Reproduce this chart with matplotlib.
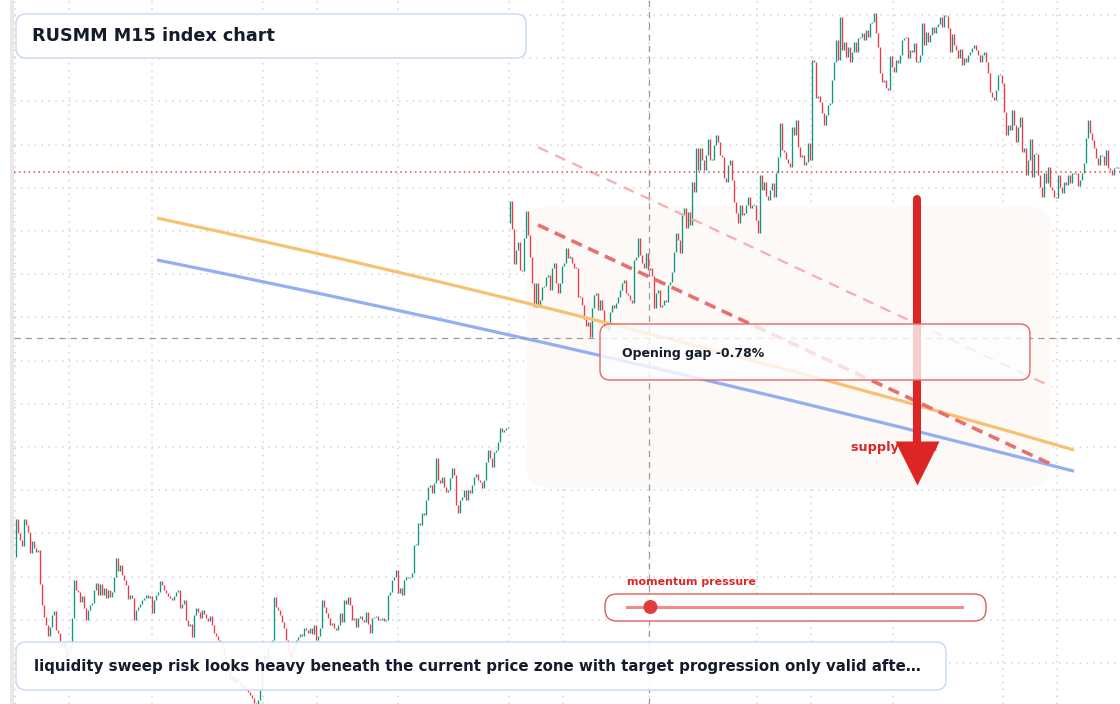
import matplotlib
matplotlib.use("Agg")
import matplotlib.pyplot as plt
import numpy as np
from matplotlib.patches import FancyBboxPatch, Circle, PathPatch, Rectangle
from matplotlib.path import Path
from matplotlib.transforms import Affine2D
from matplotlib.lines import Line2D

plt.rcParams['font.family'] = ['DejaVu Sans']

# ---------------- data ----------------
title = "RUSMM M15 index chart"
note = ("liquidity sweep risk looks heavy beneath the current price zone with "
        "target progression only valid afte\u2026")
gap_label = "Opening gap -0.78%"
zone_label = "supply zone"
slider_label = "momentum pressure"

first_open = 124.5
session1_close = [
    133.3, 130.1, 128.5, 127.1, 133.3, 131.9, 130.3, 125.5, 128.2, 126.6,
    125.7, 126.2, 118.3, 113.4, 110.6, 108.8, 106.3, 108.3, 111.1, 112.0,
    107.6, 106.9, 104.9, 103.5, 104.9, 101.4, 103.0, 104.2, 110.4, 119.2,
    116.9, 116.4, 114.1, 115.5, 112.7, 110.0, 112.3, 113.4, 113.9, 116.9,
    118.5, 115.7, 118.3, 115.7, 117.4, 115.0, 116.9, 115.3, 116.4, 119.9,
    124.3, 121.3, 122.7, 120.4, 119.2, 118.1, 114.8, 115.7, 115.0, 110.0,
    112.3, 113.0, 113.7, 114.6, 115.0, 115.7, 115.0, 115.5, 111.6, 114.6,
    115.7, 116.4, 119.0, 118.1, 116.9, 116.2, 115.5, 115.0, 114.6, 115.5,
    116.4, 116.9, 112.7, 113.7, 114.6, 110.0, 108.6, 109.0, 106.0, 111.1,
    112.7, 111.8, 110.4, 112.3, 111.3, 110.4, 109.7, 110.9, 108.8, 106.9,
    106.3, 105.3, 104.9, 103.5, 101.9, 99.5, 97.9, 96.1, 97.0, 95.4,
    96.5, 95.6, 94.9, 94.2, 94.7, 93.8, 93.3, 92.6, 91.9, 90.7,
    89.6, 91.4, 93.8, 98.8, 101.9, 100.7, 103.5, 104.4, 105.3, 115.3,
    113.0, 112.3, 111.1, 109.5, 108.1, 105.3, 103.0, 101.2, 102.5, 104.2,
    105.3, 106.0, 106.7, 106.3, 108.1, 107.6, 106.9, 108.1, 106.7, 108.8,
    105.3, 106.3, 108.1, 114.6, 113.0, 111.6, 110.4, 108.8, 109.3, 108.1,
    107.6, 108.8, 111.6, 109.5, 114.6, 113.7, 115.3, 113.4, 110.0, 110.4,
    108.3, 110.4, 110.9, 110.0, 109.5, 111.8, 109.0, 106.9, 110.4, 110.6,
    110.9, 110.0, 110.0, 110.4, 109.7, 110.0, 115.7, 116.4, 119.2, 119.9,
    121.5, 116.2, 117.4, 115.7, 119.2, 119.9, 119.7, 119.9, 120.8, 127.3,
    127.3, 132.4, 131.9, 134.7, 134.3, 137.7, 140.7, 141.2, 139.4, 141.7,
    147.5, 142.4, 141.7, 143.1, 140.7, 139.6, 140.0, 142.8, 145.1, 143.5,
    136.6, 134.7, 137.7, 138.4, 140.0, 137.7, 140.0, 139.4, 141.2, 143.1,
    143.8, 142.4, 141.9, 140.5, 142.4, 146.5, 149.3, 147.5, 145.4, 148.8,
    149.3, 151.2, 154.4, 153.5, 153.9, 154.4, 154.4,
]
session2_open = 201.9
session2_close = [
    206.9, 200.5, 192.4, 195.6, 197.5, 191.0, 190.7, 198.4, 204.6, 199.1,
    194.0, 188.0, 182.4, 188.0, 182.4, 184.0, 187.0, 187.3, 189.4, 189.8,
    186.3, 191.4, 192.6, 188.0, 185.6, 188.0, 191.9, 192.6, 196.1, 193.8,
    194.0, 192.6, 191.4, 191.4, 184.7, 184.7, 182.9, 179.6, 178.0, 178.9,
    175.5, 182.2, 185.2, 185.6, 181.7, 184.0, 181.7, 177.5, 178.2, 177.1,
    181.3, 182.9, 182.2, 183.3, 184.7, 186.3, 188.0, 188.7, 185.6, 185.2,
    184.0, 183.3, 193.3, 194.0, 198.4, 194.4, 192.6, 191.4, 194.9, 191.0,
    191.4, 189.6, 182.2, 185.6, 186.3, 182.4, 182.9, 184.0, 183.5, 187.5,
    188.2, 190.5, 195.1, 199.5, 197.9, 194.9, 203.7, 205.3, 200.7, 204.4,
    201.4, 211.4, 209.0, 219.2, 214.1, 219.2, 216.4, 214.1, 217.6, 221.3,
    216.4, 216.4, 219.9, 222.2, 220.6, 217.6, 217.1, 212.3, 211.4, 215.3,
    216.4, 211.8, 206.7, 204.2, 201.9, 206.0, 203.7, 204.2, 206.0, 207.9,
    205.3, 206.0, 206.0, 202.5, 199.5, 213.0, 209.5, 211.4, 208.1, 207.2,
    209.5, 211.1, 207.9, 213.4, 217.1, 225.0, 218.7, 218.3, 216.7, 215.7,
    214.8, 224.1, 222.2, 225.7, 219.4, 217.1, 217.6, 215.3, 216.0, 220.4,
    216.4, 239.6, 239.1, 230.8, 231.3, 229.9, 227.3, 224.5, 226.9, 229.2,
    229.6, 235.0, 239.1, 244.2, 239.6, 249.5, 241.9, 243.8, 240.3, 242.6,
    239.1, 241.4, 243.8, 241.4, 244.7, 244.9, 245.8, 244.2, 246.5, 244.9,
    248.1, 248.4, 250.5, 245.8, 242.6, 236.6, 234.5, 235.0, 233.1, 232.6,
    240.5, 237.9, 236.8, 239.6, 238.9, 240.7, 244.2, 244.7, 244.9, 240.0,
    241.9, 241.4, 243.5, 239.1, 239.1, 240.7, 248.1, 243.1, 246.1, 243.8,
    245.4, 247.2, 245.8, 247.2, 247.9, 249.5, 247.2, 250.0, 249.8, 247.0,
    241.4, 245.6, 243.1, 241.9, 240.0, 242.1, 238.4, 240.0, 239.1, 240.7,
    241.4, 242.4, 243.1, 241.9, 240.7, 239.1, 240.7, 241.4, 239.1, 236.6,
    232.2, 231.0, 230.3, 232.6, 236.1, 236.1, 234.3, 227.5, 222.2, 224.5,
    223.4, 228.0, 224.5, 220.6, 224.1, 226.4, 218.3, 219.2, 213.0, 216.4,
    221.3, 212.5, 217.8, 217.8, 213.0, 210.2, 207.9, 213.4, 211.1, 214.8,
    210.2, 209.5, 207.9, 207.6, 213.0, 210.2, 208.8, 211.4, 210.6, 213.0,
    211.1, 213.4, 213.2, 213.4, 210.4, 211.8, 213.4, 215.7, 221.5, 225.7,
    222.7, 221.1, 219.2, 216.9, 215.3, 217.6, 217.4, 215.3, 218.7, 214.6,
    214.1, 213.0, 214.6, 214.6, 214.6, 213.7,
]

time_grid = [-0.25, 26.75, 68.25, 123.75, 150.75, 191.25, 246.75, 273.75,
             316.75, 370.75, 397.75, 438.75, 493.75, 520.75]
price_grid = list(range(100, 251, 10))

crosshair_bar = 316.75
crosshair_price = 175.2

# overlay drawings: (bar index, price)
orange_curve = [(70.75, 203.0), (300.0, 180.3), (529.25, 149.3)]
blue_curve = [(70.75, 193.3), (300.0, 171.9), (529.25, 144.4)]
red_trend = [(261.25, 201.4), (519.75, 145.6)]
pink_trend = [(261.25, 219.4), (518.25, 163.9)]
zone_bars = (255.75, 517.25)
zone_prices = (140.7, 205.6)
arrow_bar = 450.75
arrow_from, arrow_to = 207.4, 150.5
arrow_head = 146.4
zone_text_pos = (417.75, 149.8)
momentum_value = 0.07  # knob position along slider (0..1)

# ---------------- figure ----------------
W, H = 1120, 704
fig = plt.figure(figsize=(W / 100, H / 100), dpi=100)
fig.patch.set_facecolor('white')
ax = fig.add_axes([14 / W, 0, (W - 14) / W, 1])
ax.set_facecolor('white')
px = Affine2D().scale(1, -1).translate(0, H)

ax.set_xlim(-0.75, 552.25)
ax.set_ylim(90.51, 253.47)
for s in ax.spines.values():
    s.set_visible(False)
ax.set_xticks(time_grid)
ax.set_yticks(price_grid)
ax.tick_params(length=0, labelleft=False, labelbottom=False)
ax.grid(True, color='#d4d4d4', lw=1.1, ls=(0, (1, 3.5)), zorder=0)
ax.set_axisbelow(True)

# zone
zone = FancyBboxPatch((zone_bars[0], zone_prices[0]), zone_bars[1] - zone_bars[0],
                      zone_prices[1] - zone_prices[0],
                      boxstyle='round,pad=0,rounding_size=10', mutation_aspect=0.463,
                      facecolor='#fcf9f6', edgecolor='none', zorder=1)
ax.add_patch(zone)

# candles
c1 = np.array(session1_close)
c2 = np.array(session2_close)
closes = np.concatenate([c1, c2])
opens = np.concatenate([[first_open], c1[:-1], [session2_open], c2[:-1]])
xs = np.arange(len(closes))
lo = np.minimum(opens, closes)
hi = np.maximum(np.maximum(opens, closes), lo + 0.3)
cols = np.where(closes >= opens, '#089981', '#f23645')
bars = ax.vlines(xs, lo, hi, colors=cols, lw=0.95, zorder=3, capstyle='butt')
bars.set_snap(True)

# curves
for pts, col in [(orange_curve, '#f7c173'), (blue_curve, '#94aef3')]:
    path = Path(pts, [Path.MOVETO, Path.CURVE3, Path.CURVE3])
    ax.add_patch(PathPatch(path, fill=False, edgecolor=col, lw=2.3, zorder=4,
                           capstyle='butt'))

ax.plot(*zip(*pink_trend), color='#f4b0b0', lw=1.6, ls=(0, (5, 3.5)), zorder=4)
ax.plot(*zip(*red_trend), color='#e96f6f', lw=2.6, ls=(0, (3.2, 1.9)), zorder=4)

# crosshair and last price
ax.axhline(crosshair_price, color='#9b9b9b', lw=0.9, ls=(0, (5, 4)), zorder=5)
ax.axvline(crosshair_bar, color='#9b9b9b', lw=0.9, ls=(0, (5, 4)), zorder=5)
ax.axhline(closes[-1], color='#ef4444', lw=1.1, ls=(0, (1, 2.2)), zorder=5)

# supply zone text + arrow
ax.text(*zone_text_pos, zone_label, color='#dc2626', fontsize=9.2, fontweight='bold',
        va='center', ha='left', zorder=7)
ax.plot([arrow_bar, arrow_bar], [arrow_from, arrow_to], color='#dc2626', lw=5.8,
        solid_capstyle='round', zorder=8)
ax.plot([arrow_bar], [arrow_head], marker='v', ms=31, color='#dc2626', mec='none',
        zorder=8)


# ---------------- annotation boxes (pixel layout) ----------------
def rbox(x0, y0, x1, y1, r, fc, ec, lw=1.0, z=10):
    p = FancyBboxPatch((x0, y0), x1 - x0, y1 - y0,
                       boxstyle=f'round,pad=0,rounding_size={r}',
                       transform=px, facecolor=fc, edgecolor=ec, lw=lw, zorder=z)
    fig.add_artist(p)


fig.add_artist(Rectangle((10, 0), 4, H, transform=px, facecolor='#e9e9e9',
                         edgecolor='none', zorder=9))

rbox(16, 14, 526, 58, 10, 'white', '#c8d9f0')
fig.text(32, 36, title, transform=px, fontsize=12.7, fontweight='bold',
         color='#141c2b', va='center', ha='left', zorder=11)

rbox(16, 642, 946, 690, 10, (1, 1, 1, 0.9), '#c8d9f0')
fig.text(34, 666, note, transform=px, fontsize=10.85, fontweight='bold',
         color='#141c2b', va='center', ha='left', zorder=11)

rbox(600, 324, 1030, 380, 10, (1, 1, 1, 0.78), '#e46767')
fig.text(622, 353, gap_label, transform=px, fontsize=9.0, fontweight='bold',
         color='#141c2b', va='center', ha='left', zorder=11)

fig.text(627, 582, slider_label, transform=px, fontsize=7.9, fontweight='bold',
         color='#dc2626', va='center', ha='left', zorder=11)
rbox(605, 594, 986, 621, 12, 'white', '#e05a5a')
track_x0, track_x1 = 627, 962
fig.add_artist(Line2D([track_x0, track_x1], [607, 607], transform=px,
                      color='#ef8d8d', lw=2.2, zorder=11))
knob_x = track_x0 + momentum_value * (track_x1 - track_x0)
fig.add_artist(Circle((knob_x, 607), 7, transform=px, facecolor='#e03c3c',
                      edgecolor='none', zorder=12))

fig.savefig('out.png', dpi=100, facecolor='white')
